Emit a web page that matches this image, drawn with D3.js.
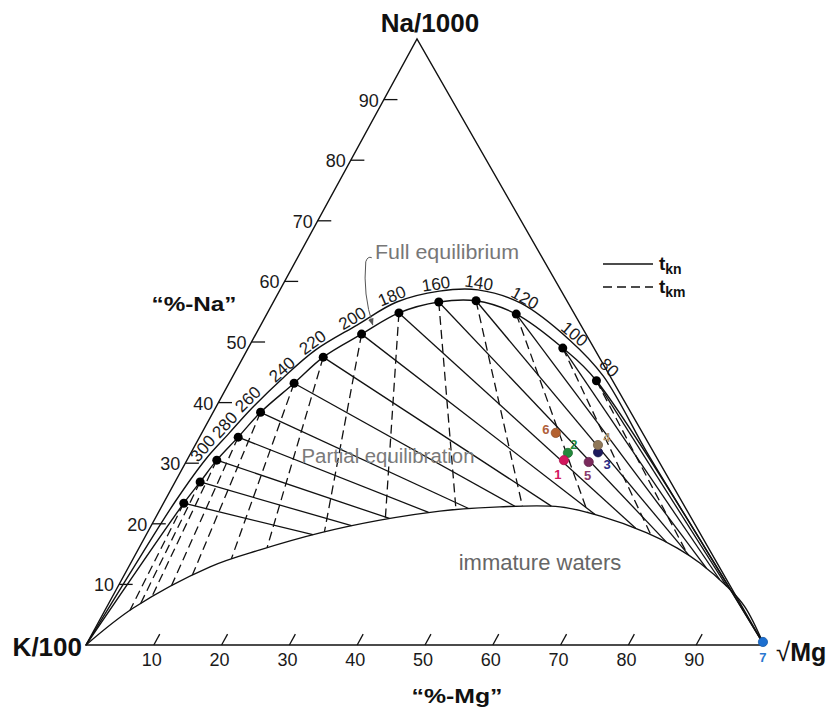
<!DOCTYPE html>
<html>
<head>
<meta charset="utf-8">
<script src="https://cdn.jsdelivr.net/npm/d3@7"></script>
<style>
  body { margin: 0; background: #fff; }
  svg { display: block; }
  text { font-family: "Liberation Sans", Arial, Helvetica, sans-serif; }
</style>
</head>
<body>
<svg id="chart" width="831" height="713"></svg>
<script>
// ---- Data (percent Na/1000 and percent sqrt(Mg); K/100 is the remainder) ----

// Temperatures (°C) marked on the full-equilibrium curve
const eqTemps = [80, 100, 120, 140, 160, 180, 200, 220, 240, 260, 280, 300, 320, 340];
const eqNa    = [43.6, 49.0, 54.6, 56.8, 56.6, 54.8, 51.3, 47.5, 43.2, 38.4, 34.3, 30.5, 26.9, 23.4];
const eqMg    = [54.0, 46.4, 36.8, 29.8, 24.4, 19.4, 15.6, 11.8, 9.6, 7.0, 5.7, 4.4, 3.7, 3.0];
const labelledTemps = [80, 100, 120, 140, 160, 180, 200, 220, 240, 260, 280, 300];

// Outer curve carrying the temperature labels (from K corner to Mg corner)
const outerNa = [0, 11.6, 23.6, 30.7, 34.8, 39.1, 44.2, 48.7, 52.8, 56.6, 58.4, 58.6, 56.4, 50.3, 44.4, 31.4, 16.0, 0];
const outerMg = [0, 0.7, 1.6, 2.7, 4.0, 5.4, 7.6, 10.1, 14.2, 18.2, 23.6, 29.2, 36.6, 46.8, 54.6, 67.6, 83.5, 100];

// Lower boundary of the partial-equilibration field (immature waters below)
const lowerNa = [0, 6.1, 12.9, 15.7, 18.5, 20.6, 22.1, 22.8, 22.8, 21.3, 18.5, 16.0, 13.5, 9.6, 6.3, 0];
const lowerMg = [0, 4.0, 12.0, 18.0, 25.5, 33.3, 41.4, 49.9, 58.8, 65.4, 73.7, 79.4, 84.0, 89.9, 94.1, 100];

// Water samples
const sampleIds    = [2, 1, 6, 3, 4, 5, 7];
const sampleNa     = [31.7, 30.5, 35.0, 31.8, 33.0, 30.2, 0.5];
const sampleMg     = [55.6, 55.6, 52.2, 60.0, 59.4, 59.4, 99.6];

// Axis ticks
const axisTicks = [10, 20, 30, 40, 50, 60, 70, 80, 90];

// ---- Styling ----
const sampleFill  = {1: "#d3175e", 2: "#23893c", 3: "#1d1a5c", 4: "#8f7758", 5: "#7a2a5c", 6: "#b4612f", 7: "#1c6fd0"};
const sampleText  = {1: "#d3175e", 2: "#23893c", 3: "#2a2a86", 4: "#b3966f", 5: "#8a3a6c", 6: "#b0603a", 7: "#2a78d0"};
const sampleLabelOffset = {1: [-6, 14], 2: [6, -8], 3: [9, 12], 4: [9, -8], 5: [-1, 14], 6: [-10, -3], 7: [0, 16]};

// ---- Ternary frame ----
const K = {x: 86, y: 645};   // K/100 corner
const M = {x: 764, y: 645};  // sqrt(Mg) corner
const A = {x: 417, y: 39};   // Na/1000 corner

const mgScale = d3.scaleLinear().domain([0, 100]).range([0, M.x - K.x]);
const naX = d3.scaleLinear().domain([0, 100]).range([0, A.x - K.x]);
const naY = d3.scaleLinear().domain([0, 100]).range([K.y, A.y]);
const pos = (na, mg) => [K.x + mgScale(mg) + naX(na), naY(na)];

const svg = d3.select("#chart");

const smooth = d3.line().curve(d3.curveCatmullRom.alpha(0.5));
const straight = d3.line();

const plot = svg.append("g");

// Triangle outline
plot.append("path")
  .attr("d", straight([pos(0, 0), pos(0, 100), pos(100, 0)]) + "Z")
  .attr("fill", "none").attr("stroke", "#111").attr("stroke-width", 1.4);

// Curves
const eqPts = [pos(0, 0)].concat(eqTemps.map((t, i) => pos(eqNa[i], eqMg[i])).reverse(), [pos(0, 100)]);
const outerPts = outerNa.map((n, i) => pos(n, outerMg[i]));
const lowerPts = lowerNa.map((n, i) => pos(n, lowerMg[i]));

const lowerPath = plot.append("path").attr("d", smooth(lowerPts))
  .attr("fill", "none").attr("stroke", "#111").attr("stroke-width", 1.4);
plot.append("path").attr("d", smooth(outerPts))
  .attr("fill", "none").attr("stroke", "#111").attr("stroke-width", 1.4);
plot.append("path").attr("d", smooth(eqPts))
  .attr("fill", "none").attr("stroke", "#111").attr("stroke-width", 1.4);

// Sample the lower boundary so the isotherms can be clipped against it
const node = lowerPath.node();
const total = node.getTotalLength();
const lowerPoly = d3.range(0, 601).map(i => {
  const p = node.getPointAtLength(total * i / 600);
  return [p.x, p.y];
});

function clipToLower(p, q) {
  let best = null;
  const r = [q[0] - p[0], q[1] - p[1]];
  for (let i = 0; i < lowerPoly.length - 1; i++) {
    const a = lowerPoly[i], b = lowerPoly[i + 1];
    const s = [b[0] - a[0], b[1] - a[1]];
    const den = r[0] * s[1] - r[1] * s[0];
    if (Math.abs(den) < 1e-9) continue;
    const t = ((a[0] - p[0]) * s[1] - (a[1] - p[1]) * s[0]) / den;
    const u = ((a[0] - p[0]) * r[1] - (a[1] - p[1]) * r[0]) / den;
    if (t > 1e-3 && t <= 1 && u >= 0 && u <= 1 && (best === null || t < best)) best = t;
  }
  return best === null ? q : [p[0] + best * r[0], p[1] + best * r[1]];
}

const eqXY = eqTemps.map((t, i) => pos(eqNa[i], eqMg[i]));
const apex = pos(100, 0), mgCorner = pos(0, 100);

// t_kn isotherms: lines of constant Na/K towards the sqrt(Mg) corner
plot.append("g").selectAll("line").data(eqXY).join("line")
  .each(function (p) {
    const e = clipToLower(p, mgCorner);
    d3.select(this).attr("x1", p[0]).attr("y1", p[1]).attr("x2", e[0]).attr("y2", e[1]);
  })
  .attr("stroke", "#111").attr("stroke-width", 1.3);

// t_km isotherms: lines of constant K/sqrt(Mg) radiating from the Na corner
plot.append("g").selectAll("line").data(eqXY).join("line")
  .each(function (p) {
    const far = [p[0] + (p[0] - apex[0]) * 3, p[1] + (p[1] - apex[1]) * 3];
    const e = clipToLower(p, far);
    d3.select(this).attr("x1", p[0]).attr("y1", p[1]).attr("x2", e[0]).attr("y2", e[1]);
  })
  .attr("stroke", "#111").attr("stroke-width", 1.3).attr("stroke-dasharray", "9,5");

// Equilibrium points
plot.append("g").selectAll("circle").data(eqXY).join("circle")
  .attr("cx", d => d[0]).attr("cy", d => d[1]).attr("r", 4.5).attr("fill", "#000");

// Temperature labels along the curve
const centre = [440, 470];
plot.append("g").selectAll("text").data(labelledTemps).join("text")
  .each(function (t) {
    const i = eqTemps.indexOf(t);
    const p = eqXY[i];
    const prev = i > 0 ? eqXY[i - 1] : p;
    const next = i < eqXY.length - 1 ? eqXY[i + 1] : p;
    // tangent oriented left-to-right
    let tx = prev[0] - next[0], ty = prev[1] - next[1];
    if (tx < 0) { tx = -tx; ty = -ty; }
    const len = Math.hypot(tx, ty);
    tx /= len; ty /= len;
    let nx = ty, ny = -tx;
    if (nx * (p[0] - centre[0]) + ny * (p[1] - centre[1]) < 0) { nx = -nx; ny = -ny; }
    const off = 18;
    const x = p[0] + nx * off, y = p[1] + ny * off;
    const ang = Math.atan2(ty, tx) * 180 / Math.PI;
    d3.select(this).attr("transform", `translate(${x},${y}) rotate(${ang})`);
  })
  .attr("text-anchor", "middle").attr("dominant-baseline", "central")
  .attr("font-size", 17).attr("fill", "#1a1a1a").text(d => d);

// Left axis (%-Na) ticks
const leftAxis = plot.append("g");
axisTicks.forEach(v => {
  const p = pos(v, 0), q = pos(v, 2);
  leftAxis.append("line").attr("x1", p[0]).attr("y1", p[1]).attr("x2", q[0]).attr("y2", q[1])
    .attr("stroke", "#111").attr("stroke-width", 1.3);
  leftAxis.append("text").attr("x", p[0] - 5).attr("y", p[1] + 1)
    .attr("text-anchor", "end").attr("dominant-baseline", "central")
    .attr("font-size", 18).attr("fill", "#1a1a1a").text(v);
});

// Bottom axis (%-Mg) ticks
const bottomAxis = plot.append("g");
axisTicks.forEach(v => {
  const p = pos(0, v), q = pos(1.8, v);
  bottomAxis.append("line").attr("x1", p[0]).attr("y1", p[1]).attr("x2", q[0]).attr("y2", q[1])
    .attr("stroke", "#111").attr("stroke-width", 1.3);
  bottomAxis.append("text").attr("x", p[0] - 2).attr("y", p[1] + 21)
    .attr("text-anchor", "middle").attr("font-size", 18).attr("fill", "#1a1a1a").text(v);
});

// Samples
const samples = plot.append("g");
sampleIds.forEach((id, i) => {
  const p = pos(sampleNa[i], sampleMg[i]);
  samples.append("circle").attr("cx", p[0]).attr("cy", p[1]).attr("r", 4.6)
    .attr("fill", sampleFill[id]).attr("stroke", d3.color(sampleFill[id]).darker(0.6)).attr("stroke-width", 0.8);
});
sampleIds.forEach((id, i) => {
  const p = pos(sampleNa[i], sampleMg[i]);
  const o = sampleLabelOffset[id];
  samples.append("text").attr("x", p[0] + o[0]).attr("y", p[1] + o[1])
    .attr("text-anchor", "middle").attr("dominant-baseline", "central")
    .attr("font-size", 13).attr("font-weight", "bold").attr("fill", sampleText[id]).text(id);
});

// Region and curve annotations
svg.append("text").attr("x", 388).attr("y", 463).attr("text-anchor", "middle")
  .attr("font-size", 20).attr("fill", "#7a7a7a").attr("textLength", 173).attr("lengthAdjust", "spacingAndGlyphs")
  .text("Partial equilibration");
svg.append("text").attr("x", 540).attr("y", 570).attr("text-anchor", "middle")
  .attr("font-size", 22).attr("fill", "#666").text("immature waters");
svg.append("text").attr("x", 447).attr("y", 259).attr("text-anchor", "middle")
  .attr("font-size", 20).attr("fill", "#777").attr("textLength", 144).attr("lengthAdjust", "spacingAndGlyphs")
  .text("Full equilibrium");

// Arrow from the "Full equilibrium" note to the curve
svg.append("defs").append("marker").attr("id", "arrow").attr("viewBox", "0 0 10 10")
  .attr("refX", 9).attr("refY", 5).attr("markerWidth", 7).attr("markerHeight", 7).attr("orient", "auto")
  .append("path").attr("d", "M0,1 L10,5 L0,9 Z").attr("fill", "#555");
const i200 = eqTemps.indexOf(200), i180 = eqTemps.indexOf(180);
const tip = [eqXY[i200][0] * 0.7 + eqXY[i180][0] * 0.3, eqXY[i200][1] * 0.7 + eqXY[i180][1] * 0.3 - 3];
svg.append("path")
  .attr("d", `M${tip[0] - 1},${tip[1] - 67} q-4,-2 -6,4 Q${tip[0] - 10},${tip[1] - 30} ${tip[0]},${tip[1]}`)
  .attr("fill", "none").attr("stroke", "#555").attr("stroke-width", 1).attr("marker-end", "url(#arrow)");

// Corner and axis titles
svg.append("text").attr("x", 430).attr("y", 32).attr("text-anchor", "middle")
  .attr("font-size", 26).attr("font-weight", "bold").attr("fill", "#111").text("Na/1000");
svg.append("text").attr("x", 82).attr("y", 656).attr("text-anchor", "end")
  .attr("font-size", 26).attr("font-weight", "bold").attr("fill", "#111").text("K/100");
const mgLabel = svg.append("text").attr("x", 776).attr("y", 661).attr("font-weight", "bold").attr("fill", "#111");
mgLabel.append("tspan").attr("font-size", 26).attr("font-weight", "normal").text("√");
mgLabel.append("tspan").attr("font-size", 25).text("Mg");
svg.append("text").attr("x", 194).attr("y", 311).attr("text-anchor", "middle")
  .attr("font-size", 20).attr("font-weight", "bold").attr("fill", "#111")
  .attr("textLength", 85).attr("lengthAdjust", "spacingAndGlyphs").text("“%-Na”");
svg.append("text").attr("x", 457).attr("y", 703).attr("text-anchor", "middle")
  .attr("font-size", 21).attr("font-weight", "bold").attr("fill", "#111")
  .attr("textLength", 91).attr("lengthAdjust", "spacingAndGlyphs").text("“%-Mg”");

// Legend
const legend = svg.append("g");
const legendRows = [{y: 264, dash: null, sub: "kn"}, {y: 287, dash: "9,5", sub: "km"}];
legendRows.forEach(r => {
  legend.append("line").attr("x1", 603).attr("x2", 653).attr("y1", r.y).attr("y2", r.y)
    .attr("stroke", "#111").attr("stroke-width", 1.4).attr("stroke-dasharray", r.dash);
  const t = legend.append("text").attr("x", 659).attr("y", r.y + 6)
    .attr("font-size", 19).attr("font-weight", "bold").attr("fill", "#111");
  t.append("tspan").text("t");
  t.append("tspan").attr("font-size", 14).attr("dy", 4).text(r.sub);
});
</script>
</body>
</html>
